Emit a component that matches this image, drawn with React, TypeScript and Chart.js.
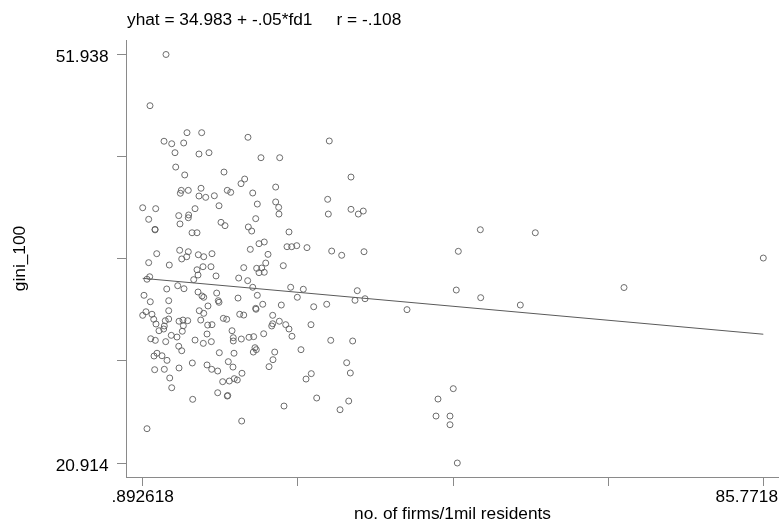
import React, { useEffect, useRef } from "react";
import { Chart, registerables } from "chart.js";

Chart.register(...registerables);

// ---- Data ----
const FIRMS: number[] = [
  4.08, 1.89, 6.95, 8.96, 3.81, 4.86, 6.50, 15.29, 5.31, 8.59,
  9.96, 5.41, 6.64, 12.01, 14.84, 14.34, 6.17, 6.04, 7.13, 8.87,
  12.46, 12.93, 15.94, 8.59, 9.51, 10.69, 26.41, 17.07, 19.63, 29.38,
  19.08, 26.19, 16.57, 19.08, 0.892618, 2.67, 8.05, 11.33, 5.82, 7.18,
  7.13, 1.71, 5.99, 11.60, 12.15, 15.34, 2.58, 2.58, 7.64, 8.32,
  15.80, 2.81, 5.95, 7.13, 6.91, 6.23, 8.50, 9.24, 10.37, 15.61,
  1.71, 4.53, 8.32, 9.14, 10.23, 14.71, 8.46, 10.92, 1.85, 1.48,
  7.87, 14.02, 15.25, 15.94, 5.68, 6.54, 4.18, 1.07, 1.93, 4.45,
  8.46, 9.00, 9.24, 11.01, 11.23, 11.33, 13.93, 9.82, 19.49, 16.35,
  19.53, 26.28, 29.38, 30.38, 31.06, 20.90, 16.80, 17.52, 20.63, 21.27,
  21.96, 23.36, 26.74, 28.11, 31.16, 18.03, 20.12, 17.72, 16.48, 17.17,
  16.80, 17.52, 21.13, 22.86, 16.57, 22.04, 30.24, 29.93, 31.30, 17.31,
  16.35, 19.85, 24.28, 26.06, 0.892618, 1.34, 2.16, 2.40, 2.71, 4.45,
  3.98, 4.45, 3.85, 3.76, 3.12, 5.86, 6.40, 7.05, 6.45, 6.31,
  8.63, 9.24, 8.83, 9.78, 10.37, 9.69, 11.92, 12.38, 14.16, 14.71,
  4.80, 5.58, 1.99, 2.62, 4.04, 8.05, 9.18, 10.28, 13.11, 13.28,
  13.28, 14.38, 15.43, 16.07, 5.82, 6.23, 2.44, 2.85, 3.53, 4.22,
  11.37, 13.38, 16.02, 2.53, 3.85, 5.86, 7.68, 9.69, 10.33, 11.15,
  12.60, 13.24, 14.47, 4.59, 4.86, 11.83, 12.74, 13.42, 13.83, 11.15,
  12.46, 12.52, 7.73, 14.43, 1.48, 16.39, 18.67, 18.67, 18.54, 19.58,
  20.45, 20.90, 21.31, 23.91, 17.44, 16.25, 16.43, 18.95, 18.71, 18.17,
  22.54, 26.61, 29.61, 28.79, 29.29, 23.95, 23.23, 24.69, 29.07, 27.88,
  20.22, 37.04, 47.07, 54.59, 44.06, 43.78, 47.12, 52.54, 43.37, 41.28,
  41.01, 42.92, 42.92, 43.92, 66.72, 85.7718,
];

const GINI: number[] = [
  51.938, 48.05, 46.00, 46.00, 45.35, 45.16, 45.22, 45.65, 44.48, 44.38,
  44.48, 43.39, 42.79, 43.01, 42.48, 42.13, 41.62, 41.40, 41.62, 41.78,
  41.62, 41.47, 41.42, 41.19, 41.09, 41.21, 45.37, 44.10, 44.10, 42.63,
  41.87, 40.94, 40.58, 40.74, 40.30, 40.23, 40.23, 40.45, 39.70, 39.75,
  39.54, 39.42, 39.07, 39.19, 38.94, 38.84, 38.66, 38.62, 38.40, 38.40,
  38.53, 36.81, 37.07, 36.96, 36.58, 36.41, 36.73, 36.58, 36.81, 37.14,
  36.13, 35.95, 35.59, 35.82, 35.82, 35.75, 35.19, 35.12, 35.06, 34.87,
  34.84, 34.96, 34.76, 34.26, 34.38, 34.15, 34.13, 33.65, 33.16, 33.24,
  33.90, 33.60, 33.50, 33.82, 33.24, 33.12, 33.44, 32.84, 40.33, 39.47,
  39.82, 39.82, 40.18, 39.82, 40.05, 38.46, 37.57, 37.70, 37.34, 37.34,
  37.42, 37.27, 37.01, 36.69, 36.96, 36.76, 35.90, 36.10, 35.70, 35.72,
  35.37, 35.40, 34.26, 34.11, 33.65, 33.50, 34.00, 33.27, 33.39, 32.97,
  32.66, 32.91, 32.78, 32.97, 32.13, 32.40, 32.21, 31.83, 31.47, 32.48,
  31.72, 31.85, 31.32, 31.09, 30.96, 31.68, 31.77, 31.72, 31.34, 30.92,
  32.48, 32.28, 31.77, 31.39, 31.42, 30.71, 31.90, 31.83, 32.21, 32.15,
  30.61, 30.48, 30.35, 30.23, 30.13, 30.25, 30.00, 30.13, 30.96, 30.43,
  30.18, 30.33, 30.46, 30.51, 29.78, 29.44, 29.04, 29.25, 29.06, 28.71,
  29.29, 29.25, 29.34, 28.00, 28.03, 28.13, 28.51, 28.36, 28.03, 27.90,
  28.61, 28.20, 27.73, 27.37, 26.63, 27.09, 27.14, 27.32, 27.22, 26.25,
  26.00, 26.04, 25.75, 24.10, 23.52, 32.59, 32.13, 31.49, 31.32, 31.68,
  31.42, 31.09, 30.54, 31.42, 30.73, 29.67, 29.52, 29.34, 28.76, 28.23,
  29.52, 30.23, 30.18, 28.53, 27.75, 27.70, 27.29, 25.85, 25.62, 24.96,
  25.24, 32.56, 38.63, 38.40, 36.99, 34.05, 33.47, 32.91, 26.56, 25.77,
  24.48, 24.48, 23.82, 20.914, 34.24, 36.48,
];

// Fitted line from the caption: yhat = 34.983 + -.05*fd1
const FIT_INTERCEPT = 34.983;
const FIT_SLOPE = -0.05;
const FIT_X: number[] = [0.892618, 85.7718];

const X_TICKS: number[] = [0.892618, 22.112413, 43.332209, 64.552005, 85.7718];
const X_TICK_LABELS: string[] = [".892618", "", "", "", "85.7718"];
const Y_TICKS: number[] = [20.914, 28.67, 36.426, 44.182, 51.938];
const Y_TICK_LABELS: string[] = ["20.914", "", "", "", "51.938"];

const TITLE = "yhat = 34.983 + -.05*fd1     r = -.108";
const X_TITLE = "no. of firms/1mil residents";
const Y_TITLE = "gini_100";

const FONT = '17.3px "Liberation Sans", Arial, sans-serif';
const AXIS_COLOR = "#8a8a8a";

const textPlugin = {
  id: "stataText",
  afterDraw(chart: any) {
    const ctx = chart.ctx as CanvasRenderingContext2D;
    const xs = chart.scales.x;
    const ys = chart.scales.y;
    const area = chart.chartArea;
    ctx.save();
    ctx.font = FONT;
    ctx.fillStyle = "#000";
    ctx.textBaseline = "alphabetic";

    // title
    ctx.textAlign = "left";
    ctx.fillText(TITLE, area.left + 1, 25);

    // y tick labels
    ctx.textAlign = "right";
    Y_TICKS.forEach((v, i) => {
      const lab = Y_TICK_LABELS[i];
      if (!lab) return;
      const py = ys.getPixelForValue(v);
      ctx.fillText(lab, 108.5, py + 7.6);
    });

    // x tick labels
    ctx.textAlign = "left";
    X_TICKS.forEach((v, i) => {
      const lab = X_TICK_LABELS[i];
      if (!lab) return;
      const px = xs.getPixelForValue(v);
      const w = ctx.measureText(lab).width;
      let left = px - w / 2;
      if (left + w > chart.width - 1) left = chart.width - 1 - w;
      ctx.fillText(lab, left, 501.5);
    });

    // x title
    ctx.textAlign = "center";
    ctx.fillText(X_TITLE, (area.left + area.right) / 2, 518.5);

    // y title
    ctx.translate(25, (area.top + area.bottom) / 2);
    ctx.rotate(-Math.PI / 2);
    ctx.textAlign = "center";
    ctx.fillText(Y_TITLE, 0, 0);
    ctx.restore();
  },
};

export default function App() {
  const canvasRef = useRef<HTMLCanvasElement | null>(null);

  useEffect(() => {
    if (!canvasRef.current) return;
    const points = FIRMS.map((x, i) => ({ x, y: GINI[i] }));
    const fit = FIT_X.map((x) => ({ x, y: FIT_INTERCEPT + FIT_SLOPE * x }));

    const chart = new Chart(canvasRef.current, {
      type: "scatter",
      data: {
        datasets: [
          {
            type: "line",
            data: fit,
            borderColor: "#5a5a5a",
            borderWidth: 1,
            pointRadius: 0,
            fill: false,
            order: 2,
          } as any,
          {
            type: "scatter",
            data: points,
            pointStyle: "circle",
            pointRadius: 3,
            pointBorderWidth: 0.9,
            borderColor: "#5e5e5e",
            backgroundColor: "rgba(0,0,0,0)",
            order: 1,
          } as any,
        ],
      },
      plugins: [textPlugin],
      options: {
        responsive: false,
        animation: false,
        devicePixelRatio: 1,
        layout: { autoPadding: false, padding: { top: 40, left: 0, right: 0, bottom: 0 } },
        plugins: {
          legend: { display: false },
          tooltip: { enabled: false },
          title: { display: false },
        },
        scales: {
          x: {
            type: "linear",
            position: "bottom",
            min: -1.3914,
            max: 87.919,
            afterBuildTicks: (s: any) => {
              s.ticks = X_TICKS.map((v) => ({ value: v }));
            },
            afterFit: (s: any) => {
              s.height = 47;
            },
            ticks: { display: false },
            grid: {
              drawOnChartArea: false,
              drawTicks: true,
              tickLength: 9,
              color: AXIS_COLOR,
              lineWidth: 1,
            },
            border: { display: true, color: AXIS_COLOR, width: 1 },
          },
          y: {
            type: "linear",
            position: "left",
            min: 19.851,
            max: 53.039,
            afterBuildTicks: (s: any) => {
              s.ticks = Y_TICKS.map((v) => ({ value: v }));
            },
            afterFit: (s: any) => {
              s.width = 126;
            },
            ticks: { display: false },
            grid: {
              drawOnChartArea: false,
              drawTicks: true,
              tickLength: 9,
              color: AXIS_COLOR,
              lineWidth: 1,
            },
            border: { display: true, color: AXIS_COLOR, width: 1 },
          },
        },
      } as any,
    });
    return () => chart.destroy();
  }, []);

  return (
    <div style={{ position: "absolute", left: 0, top: 0, width: 779, height: 524, background: "#fff" }}>
      <canvas ref={canvasRef} width={779} height={524} style={{ display: "block" }} />
    </div>
  );
}
